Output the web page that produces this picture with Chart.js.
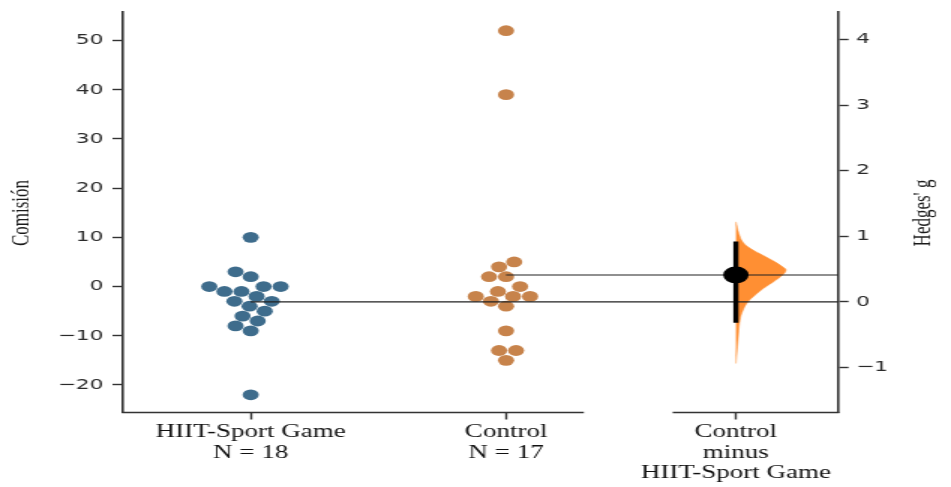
<!DOCTYPE html>
<html lang="es">
<head>
<meta charset="utf-8">
<title>Comisión – Hedges' g</title>
<script src="https://cdn.jsdelivr.net/npm/chart.js@4.4.1/dist/chart.umd.min.js"></script>
<style>
  html, body { margin: 0; padding: 0; background: #fff; overflow: hidden; }
  /* the figure is drawn at 634 px wide and widened 1.5x horizontally */
  #wrap { width: 634px; height: 487px; transform: scaleX(1.5); transform-origin: 0 0; }
  canvas { display: block; }
</style>
</head>
<body>
<div id="wrap"><canvas id="chart" width="634" height="487"></canvas></div>
<script>
// ---- data ----------------------------------------------------------------
// Bottom-axis group labels (one entry per text line) and their x positions
const groupLabels = [
  ['HIIT-Sport Game', 'N = 18'],
  ['Control', 'N = 17'],
  ['Control', 'minus', 'HIIT-Sport Game']
];
const groupPositions = [0, 1, 1.9];

// Comisión per participant
const hiitValues    = [10, 3, 2, 0, -1, -1, 0, 0, -2, -3, -3, -4, -5, -6, -7, -8, -9, -22];
const controlValues = [52, 39, 5, 4, 2, 2, 0, -1, -2, -2, -2, -3, -4, -9, -13, -13, -15];

// Hedges' g (Control minus HIIT-Sport Game) and its 95% CI
const hedgesG  = 0.41;
const hedgesCI = [-0.32, 0.92];

// Bootstrap distribution of g: g value and relative density
const bootG       = [-0.94, -0.59, -0.28, -0.13, 0.00, 0.10, 0.20, 0.30, 0.39, 0.48, 0.53, 0.61, 0.71, 0.81, 0.91, 1.04, 1.22];
const bootDensity = [0, 0.04, 0.08, 0.14, 0.24, 0.38, 0.54, 0.74, 0.90, 1.00, 0.94, 0.78, 0.54, 0.30, 0.14, 0.06, 0];

// Tick values
const leftTicks  = [-20, -10, 0, 10, 20, 30, 40, 50];
const rightTicks = [-1, 0, 1, 2, 3, 4];

// ---- scale ranges & style ----------------------------------------------------
const Y_MIN = -25.6, Y_MAX = 55.8;
const X_MIN = -0.5,  X_MAX = 2.3;
const LEFT_AXIS_END = 1.30, RIGHT_AXIS_START = 1.657;   // gap in the bottom axis
const VIOLIN_WIDTH = 0.196;                               // x units at density 1
const SWARM_DIAMETER = 10.8;                              // px between swarm dot centres
const AXIS_COLOR = '#333';
const BLUE = '#3e6c8c', ORANGE = '#c7834b', BOOT_ORANGE = '#ff8f33';

const mean = a => a.reduce((s, v) => s + v, 0) / a.length;
const hiitMean = mean(hiitValues);
const controlMean = mean(controlValues);
// Right axis aligned so g = 0 sits at the HIIT mean and g = hedgesG at the Control mean
const unitsPerG = (controlMean - hiitMean) / hedgesG;
const G_MIN = (Y_MIN - hiitMean) / unitsPerG;
const G_MAX = (Y_MAX - hiitMean) / unitsPerG;

const minusSign = v => (v < 0 ? '\u2212' + Math.abs(v) : String(v));
const xEffect = groupPositions[2];

Chart.defaults.font.family = '"DejaVu Sans", Verdana, sans-serif';

// Draws the split bottom axis and the two rotated axis titles
const framePlugin = {
  id: 'frame',
  afterDraw(chart) {
    const { ctx, chartArea, scales } = chart;
    const x = scales.x;
    ctx.save();
    ctx.strokeStyle = AXIS_COLOR;
    ctx.lineWidth = 1.6;
    ctx.lineCap = 'square';
    ctx.beginPath();
    ctx.moveTo(chartArea.left, chartArea.bottom);
    ctx.lineTo(x.getPixelForValue(LEFT_AXIS_END), chartArea.bottom);
    ctx.moveTo(x.getPixelForValue(RIGHT_AXIS_START), chartArea.bottom);
    ctx.lineTo(chartArea.right, chartArea.bottom);
    ctx.stroke();

    ctx.fillStyle = '#1a1a1a';
    ctx.font = '17px "Liberation Serif", "Times New Roman", serif';
    ctx.textAlign = 'center';
    ctx.textBaseline = 'middle';
    const title = (text, cx, cy) => {
      ctx.save();
      ctx.translate(cx, cy);
      ctx.rotate(-Math.PI / 2);
      ctx.fillText(text, 0, 0);
      ctx.restore();
    };
    title('Comisión', 15, 213);
    title("Hedges' g", 616, 213);
    ctx.restore();
  }
};

const noPadding = s => { s.paddingTop = 0; s.paddingBottom = 0; s.paddingLeft = 0; s.paddingRight = 0; };

const chart = new Chart(document.getElementById('chart'), {
  type: 'scatter',
  data: {
    datasets: [
      { type: 'scatter', label: "Hedges' g", data: [{ x: xEffect, y: hedgesG }], yAxisID: 'g',
        pointRadius: 8.5, backgroundColor: '#000', borderWidth: 0, order: 0 },
      { type: 'line', label: '95% CI', data: hedgesCI.map(v => ({ x: xEffect, y: v })), yAxisID: 'g',
        borderColor: '#000', borderWidth: 3.4, borderCapStyle: 'butt', pointRadius: 0, order: 1 },
      { type: 'line', label: 'HIIT-Sport Game mean', data: [{ x: groupPositions[0], y: hiitMean }, { x: X_MAX, y: hiitMean }],
        borderColor: '#222', borderWidth: 1.1, pointRadius: 0, order: 2 },
      { type: 'line', label: 'Control mean', data: [{ x: groupPositions[1], y: controlMean }, { x: X_MAX, y: controlMean }],
        borderColor: '#222', borderWidth: 1.1, pointRadius: 0, order: 2 },
      { type: 'line', label: 'Bootstrap distribution',
        data: bootG.map((g, i) => ({ x: xEffect + bootDensity[i] * VIOLIN_WIDTH, y: g })), yAxisID: 'g',
        fill: 'shape', backgroundColor: BOOT_ORANGE, borderColor: 'rgba(255,143,51,0.5)', borderWidth: 1,
        pointRadius: 0, tension: 0.4, order: 3 },
      { type: 'scatter', label: 'HIIT-Sport Game', data: hiitValues.map(v => ({ x: groupPositions[0], y: v })),
        pointRadius: 5.4, backgroundColor: BLUE, borderWidth: 0, order: 4 },
      { type: 'scatter', label: 'Control', data: controlValues.map(v => ({ x: groupPositions[1], y: v })),
        pointRadius: 5.4, backgroundColor: ORANGE, borderWidth: 0, order: 4 }
    ]
  },
  options: {
    responsive: false,
    devicePixelRatio: 1,
    animation: false,
    layout: { padding: { top: 12, left: 0, right: 0, bottom: 0 } },
    plugins: { legend: { display: false }, tooltip: { enabled: false } },
    scales: {
      x: {
        type: 'linear', min: X_MIN, max: X_MAX,
        border: { display: false },
        grid: { display: true, drawOnChartArea: false, drawTicks: true, tickLength: 7,
                tickColor: AXIS_COLOR, tickWidth: 1.4 },
        ticks: { autoSkip: false, maxRotation: 0, padding: 3, color: '#111',
                 font: { family: '"Liberation Serif", "Times New Roman", serif', size: 18, lineHeight: 1.13 },
                 callback: (v, i) => groupLabels[i] },
        afterBuildTicks: s => { s.ticks = groupPositions.map(v => ({ value: v })); },
        afterFit: s => { s.height = 74.5; noPadding(s); }
      },
      y: {
        type: 'linear', position: 'left', min: Y_MIN, max: Y_MAX,
        border: { display: true, color: AXIS_COLOR, width: 1.6 },
        grid: { display: true, drawOnChartArea: false, drawTicks: true, tickLength: 7,
                tickColor: AXIS_COLOR, tickWidth: 1.4 },
        ticks: { padding: 6, color: '#2a2a2a', font: { size: 14.5 }, callback: v => minusSign(v) },
        afterBuildTicks: s => { s.ticks = leftTicks.map(v => ({ value: v })); },
        afterFit: s => { s.width = 82; noPadding(s); }
      },
      g: {
        type: 'linear', position: 'right', min: G_MIN, max: G_MAX,
        border: { display: true, color: AXIS_COLOR, width: 1.6 },
        grid: { display: true, drawOnChartArea: false, drawTicks: true, tickLength: 7,
                tickColor: AXIS_COLOR, tickWidth: 1.4 },
        ticks: { padding: 5, color: '#2a2a2a', font: { size: 14.5 }, callback: v => minusSign(v) },
        afterBuildTicks: s => { s.ticks = rightTicks.map(v => ({ value: v })); },
        afterFit: s => { s.width = 75.3; noPadding(s); }
      }
    }
  },
  plugins: [framePlugin]
});

// Swarm layout: points sorted by value, each placed at the candidate
// position nearest the group centre that does not overlap earlier points.
function swarmOffsets(values, centerPx, yScale, d) {
  const order = values.map((_, i) => i).sort((a, b) => values[a] - values[b]);
  const placed = [];
  const xs = new Array(values.length);
  for (const i of order) {
    const y = yScale.getPixelForValue(values[i]);
    const nb = placed.filter(p => Math.abs(p.y - y) < d);
    const cands = [centerPx];
    let leftFirst = true;
    for (const p of nb) {
      const dy = p.y - y;
      const dx = Math.sqrt(Math.max(d * d - dy * dy, 0)) * 1.05;
      if (leftFirst) cands.push(p.x - dx, p.x + dx); else cands.push(p.x + dx, p.x - dx);
      leftFirst = !leftFirst;
    }
    cands.sort((a, b) => Math.abs(a - centerPx) - Math.abs(b - centerPx));
    const x = cands.find(c => nb.every(p => (p.x - c) ** 2 + (p.y - y) ** 2 >= d * d - 1e-6));
    placed.push({ x, y });
    xs[i] = x;
  }
  return xs;
}

function layoutSwarm(datasetIndex, values, groupX) {
  const xScale = chart.scales.x, yScale = chart.scales.y;
  const xs = swarmOffsets(values, xScale.getPixelForValue(groupX), yScale, SWARM_DIAMETER);
  chart.data.datasets[datasetIndex].data = values.map((v, i) => ({ x: xScale.getValueForPixel(xs[i]), y: v }));
}

layoutSwarm(5, hiitValues, groupPositions[0]);
layoutSwarm(6, controlValues, groupPositions[1]);
chart.update('none');
</script>
</body>
</html>
